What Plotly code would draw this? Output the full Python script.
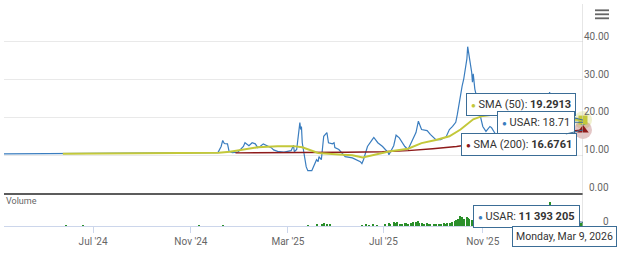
import plotly.graph_objects as go

# ---------------- data ----------------
price_dates = [
    "2024-03-11", "2024-04-15", "2024-05-20", "2024-06-24", "2024-08-01", "2024-09-10",
    "2024-10-15", "2024-11-20", "2024-12-05", "2024-12-09", "2024-12-11", "2024-12-13",
    "2024-12-17", "2024-12-19", "2024-12-23", "2024-12-30", "2025-01-06", "2025-01-08",
    "2025-01-13", "2025-01-17", "2025-01-21", "2025-01-24", "2025-01-27", "2025-01-31",
    "2025-02-05", "2025-02-10", "2025-02-13", "2025-02-18", "2025-02-26", "2025-03-07",
    "2025-03-10", "2025-03-11", "2025-03-14", "2025-03-18", "2025-03-19", "2025-03-20",
    "2025-03-21", "2025-03-26", "2025-03-28", "2025-04-02", "2025-04-04", "2025-04-08",
    "2025-04-10", "2025-04-11", "2025-04-14", "2025-04-17", "2025-04-21", "2025-04-23",
    "2025-04-28", "2025-04-30", "2025-05-01", "2025-05-06", "2025-05-14", "2025-05-23",
    "2025-06-02", "2025-06-04", "2025-06-06", "2025-06-11", "2025-06-17", "2025-06-19",
    "2025-06-24", "2025-06-30", "2025-07-07", "2025-07-08", "2025-07-14", "2025-07-17",
    "2025-07-21", "2025-07-28", "2025-08-01", "2025-08-05", "2025-08-11", "2025-08-14",
    "2025-08-18", "2025-08-25", "2025-08-29", "2025-09-05", "2025-09-11", "2025-09-18",
    "2025-09-22", "2025-09-26", "2025-09-30", "2025-10-02", "2025-10-06", "2025-10-08",
    "2025-10-10", "2025-10-14", "2025-10-15", "2025-10-17", "2025-10-20", "2025-10-21",
    "2025-10-22", "2025-10-24", "2025-10-27", "2025-10-31", "2025-11-03", "2025-11-07",
    "2025-11-12", "2025-11-14", "2025-11-20", "2025-12-01", "2025-12-10", "2025-12-22",
    "2026-01-05", "2026-01-15", "2026-01-22", "2026-01-26", "2026-01-28", "2026-02-02",
    "2026-02-10", "2026-02-20", "2026-03-02", "2026-03-09",
]
price_values = [
    10.33, 10.38, 10.42, 10.46, 10.50, 10.55,
    10.60, 10.65, 10.70, 12.3, 13.9, 13.1,
    13.0, 11.0, 10.7, 10.8, 12.3, 13.3,
    12.5, 13.3, 13.0, 12.0, 12.3, 13.0,
    12.5, 12.0, 11.4, 11.0, 10.8, 11.2,
    12.6, 10.9, 11.5, 18.6, 16.8, 17.6,
    13.3, 6.9, 5.9, 5.9, 6.9, 8.8,
    8.3, 9.6, 8.8, 15.0, 16.0, 13.3,
    13.0, 13.3, 12.0, 11.5, 9.6, 9.3,
    8.3, 7.8, 8.8, 12.3, 14.1, 14.7,
    13.3, 12.3, 10.7, 10.1, 12.5, 15.3,
    14.6, 12.3, 11.5, 13.3, 16.0, 19.0,
    16.8, 16.5, 15.5, 14.1, 14.1, 14.9,
    16.8, 17.6, 18.7, 20.8, 26.7, 28.3,
    30.1, 35.5, 38.7, 36.3, 32.0, 29.3,
    31.5, 27.5, 24.8, 20.3, 17.6, 16.3,
    17.6, 17.3, 15.2, 14.8, 16.0, 15.5,
    17.5, 19.5, 21.0, 26.7, 24.0, 25.5,
    21.5, 20.0, 19.5, 18.71,
]

sma50_dates = [
    "2024-05-24", "2024-08-01", "2024-10-15", "2024-12-06", "2024-12-20", "2025-01-02",
    "2025-01-24", "2025-02-18", "2025-03-10", "2025-03-21", "2025-04-02", "2025-04-10",
    "2025-05-06", "2025-05-23", "2025-06-05", "2025-06-17", "2025-07-08", "2025-08-01",
    "2025-08-18", "2025-09-05", "2025-09-22", "2025-10-06", "2025-10-14", "2025-10-22",
    "2025-11-03", "2025-11-20", "2025-12-10", "2026-01-05", "2026-02-02", "2026-03-09",
]
sma50_values = [
    10.38, 10.46, 10.55, 10.62, 10.9, 11.3,
    12.1, 12.4, 12.4, 12.1, 11.2, 10.6,
    10.2, 10.0, 9.4, 10.0, 11.0, 11.7,
    13.2, 14.0, 15.0, 16.8, 18.2, 19.5,
    20.4, 20.8, 20.6, 19.8, 19.6, 19.2913,
]

sma200_dates = [
    "2024-12-27", "2025-02-14", "2025-04-01", "2025-05-15", "2025-06-30", "2025-08-01",
    "2025-09-01", "2025-10-01", "2025-10-20", "2025-11-14", "2025-12-15", "2026-01-15",
    "2026-02-15", "2026-03-09",
]
sma200_values = [
    10.62, 10.75, 10.85, 10.8, 10.9, 11.2,
    11.7, 12.3, 12.9, 13.6, 14.6, 15.5,
    16.2, 16.6761,
]

volume_dates = [
    "2024-05-28", "2024-06-18", "2024-11-11", "2024-12-11",
    "2025-03-28", "2025-04-09", "2025-04-15", "2025-04-17", "2025-04-21", "2025-04-25",
    "2025-06-04", "2025-06-09", "2025-06-13", "2025-06-18", "2025-06-23",
    "2025-07-03", "2025-07-08", "2025-07-10", "2025-07-14", "2025-07-16", "2025-07-18",
    "2025-07-22", "2025-07-24", "2025-07-28", "2025-07-30", "2025-08-01", "2025-08-05",
    "2025-08-07", "2025-08-11", "2025-08-13", "2025-08-15", "2025-08-19", "2025-08-21",
    "2025-08-25", "2025-08-27", "2025-08-29", "2025-09-03", "2025-09-05", "2025-09-09",
    "2025-09-11", "2025-09-15", "2025-09-17", "2025-09-19", "2025-09-23", "2025-09-25",
    "2025-09-29", "2025-10-01", "2025-10-03", "2025-10-06", "2025-10-08", "2025-10-10",
    "2025-10-14", "2025-10-15", "2025-10-17", "2025-10-21", "2025-10-23", "2025-10-27",
    "2025-10-29", "2025-10-31", "2025-11-04", "2025-11-10", "2025-11-17", "2025-11-24",
    "2025-12-01", "2025-12-08", "2025-12-15", "2025-12-22", "2026-01-05", "2026-01-12",
    "2026-01-20", "2026-01-26", "2026-01-28", "2026-02-02", "2026-02-09", "2026-02-17",
    "2026-02-24", "2026-03-02", "2026-03-04", "2026-03-06", "2026-03-09",
]
volume_millions = [
    0.6, 0.5, 0.5, 1.0,
    2, 4, 7, 9, 6, 4,
    3, 4, 3, 5, 3,
    4, 9, 6, 12, 10, 13,
    7, 6, 8, 10, 7, 9,
    11, 12, 15, 10, 9, 7,
    8, 6, 7, 6, 7, 6,
    7, 8, 7, 9, 10, 12,
    14, 18, 22, 30, 26, 20,
    28, 25, 22, 19, 15, 13,
    11, 9, 9, 8, 7, 6,
    6, 7, 6, 5, 8, 9,
    12, 73, 25, 18, 11, 9,
    8, 10, 12, 9, 11.393205,
]

price_ticks = [0, 10, 20, 30, 40]
x_tick_dates = ["2024-07-01", "2024-11-01", "2025-03-03", "2025-07-01", "2025-11-03"]
x_tick_text = ["Jul '24", "Nov '24", "Mar '25", "Jul '25", "Nov '25"]
range_start, range_end = "2024-03-11", "2026-03-09"
last_date_label = "Monday, Mar 9, 2026"

# ---------------- styling ----------------
C_PRICE = "#3a7dbf"
C_SMA50 = "#c3c83a"
C_SMA200 = "#8e1a1a"
C_VOL = "#2a8f2a"
C_TIP = "#3b6d96"
FONT = "Roboto"

W, H = 620, 256
ML, MR, MT, MB = 4, 37, 4, 30
PH = H - MT - MB
PW = W - ML - MR
split = 33 / PH  # volume pane fraction

fig = go.Figure()

fig.add_trace(go.Scatter(x=price_dates, y=price_values, mode="lines",
                         line=dict(color=C_PRICE, width=1.2), hoverinfo="skip",
                         xaxis="x", yaxis="y"))
fig.add_trace(go.Scatter(x=sma200_dates, y=sma200_values, mode="lines",
                         line=dict(color=C_SMA200, width=1.4), hoverinfo="skip",
                         xaxis="x", yaxis="y"))
fig.add_trace(go.Scatter(x=sma50_dates, y=sma50_values, mode="lines",
                         line=dict(color=C_SMA50, width=2), hoverinfo="skip",
                         xaxis="x", yaxis="y"))

# hover-state markers at the last point
last_p = price_values[-1]
last_50 = sma50_values[-1]
last_200 = sma200_values[-1]
fig.add_trace(go.Scatter(x=[range_end, range_end], y=[last_50, last_200], mode="markers",
                         marker=dict(size=18, color=[C_SMA50, C_SMA200], opacity=0.25),
                         cliponaxis=False, hoverinfo="skip", xaxis="x", yaxis="y"))
fig.add_trace(go.Scatter(x=[range_end], y=[last_p], mode="markers",
                         marker=dict(size=6, color=C_PRICE), cliponaxis=False,
                         hoverinfo="skip", xaxis="x", yaxis="y"))
fig.add_trace(go.Scatter(x=[range_end], y=[last_50], mode="markers",
                         marker=dict(size=9, color=C_SMA50, symbol="square"), cliponaxis=False,
                         hoverinfo="skip", xaxis="x", yaxis="y"))
fig.add_trace(go.Scatter(x=[range_end], y=[last_200], mode="markers",
                         marker=dict(size=10, color=C_SMA200, symbol="triangle-up"), cliponaxis=False,
                         hoverinfo="skip", xaxis="x", yaxis="y"))

fig.add_trace(go.Bar(x=volume_dates, y=[v * 1e6 for v in volume_millions],
                     marker=dict(color=C_VOL, line=dict(width=0)),
                     width=1.4 * 86400000, hoverinfo="skip", xaxis="x2", yaxis="y2"))

fig.update_layout(
    width=W, height=H, margin=dict(l=ML, r=MR, t=MT, b=MB),
    paper_bgcolor="white", plot_bgcolor="white", showlegend=False,
    font=dict(family=FONT, color="#666666", size=10),
    xaxis=dict(domain=[0, 1], anchor="y", range=[range_start, range_end], matches="x2",
               showticklabels=False, showgrid=False, zeroline=False,
               showline=True, linecolor="#5c5c5c", linewidth=2, ticks=""),
    xaxis2=dict(domain=[0, 1], anchor="y2", range=[range_start, range_end],
                tickvals=x_tick_dates, ticktext=x_tick_text, ticks="outside", ticklen=6,
                tickcolor="#ccd6eb", showgrid=False, zeroline=False, showline=True,
                linecolor="#ccd6eb", linewidth=1, tickfont=dict(size=10, color="#666666")),
    yaxis=dict(domain=[split, 1], range=[0, 50], side="right", tickvals=price_ticks + [50],
               showticklabels=False, ticks="", gridcolor="#e9e9e9", gridwidth=1,
               zeroline=False, showline=False),
    yaxis2=dict(domain=[0, split], range=[0, 100e6], side="right", showticklabels=False,
                ticks="", showgrid=False, zeroline=False, showline=False),
    bargap=0,
)

ann = []
for v in price_ticks:
    ann.append(dict(x=(611 - ML) / PW, xref="paper", xanchor="right",
                    y=v, yref="y", yanchor="middle", yshift=5.5, showarrow=False,
                    text=f"{v:.2f}", font=dict(size=10, color="#666666")))
ann.append(dict(x=(611 - ML) / PW, xref="paper", xanchor="right",
                y=0, yref="y2", yanchor="middle", yshift=4.5, showarrow=False,
                text="0", font=dict(size=10, color="#666666")))
ann.append(dict(x=0, xref="paper", xanchor="left", y=(H - MB - 201) / PH, yref="paper",
                yanchor="middle", showarrow=False, text="Volume",
                font=dict(size=9, color="#666666")))


def tip(x, y, yref, text, ax, ay, size=11):
    return dict(x=x, y=y, xref="x", yref=yref, text=text, showarrow=True,
                arrowhead=0, arrowwidth=1, arrowcolor=C_TIP, ax=ax, ay=ay,
                bgcolor="white", bordercolor=C_TIP, borderwidth=1, borderpad=4,
                font=dict(size=size, color="#333333", family=FONT), align="left")


def dot(c):
    return f'<span style="color:{c};font-size:8px">●</span> '


ann.append(tip(range_end, last_50, "y", dot(C_SMA50) + f"SMA (50): <b>{last_50:.4f}</b>", -62, -16))
ann.append(tip(range_end, last_p, "y", dot(C_PRICE) + f"USAR: {last_p:.2f}", -47, 0))
ann.append(tip(range_end, last_200, "y", dot(C_SMA200) + f"SMA (200): <b>{last_200:.4f}</b>", -64, 15))
vol_last = round(volume_millions[-1] * 1e6)
vol_txt = f"{vol_last:,}".replace(",", " ")
ann.append(tip(range_end, volume_millions[-1] * 1e6, "y2",
               dot(C_PRICE) + f"USAR: <b>{vol_txt}</b>", -57, -6))
date_tip = tip(range_end, 0, "paper", last_date_label, -19, 10, size=10.5)
date_tip["borderpad"] = 3
ann.append(date_tip)
fig.update_layout(annotations=ann)

shapes = [dict(type="line", xref="x", yref="paper", x0=range_end, x1=range_end, y0=0, y1=1,
               line=dict(color="#cccccc", width=1))]
for yc in (10.3, 14.3, 18.3):
    shapes.append(dict(type="rect", xref="paper", yref="paper",
                       x0=(595 - ML) / PW, x1=(609 - ML) / PW,
                       y0=(H - MB - (yc + 0.9)) / PH, y1=(H - MB - (yc - 0.9)) / PH,
                       fillcolor="#666666", line=dict(width=0)))
fig.update_layout(shapes=shapes)

fig.write_html("out.html")
